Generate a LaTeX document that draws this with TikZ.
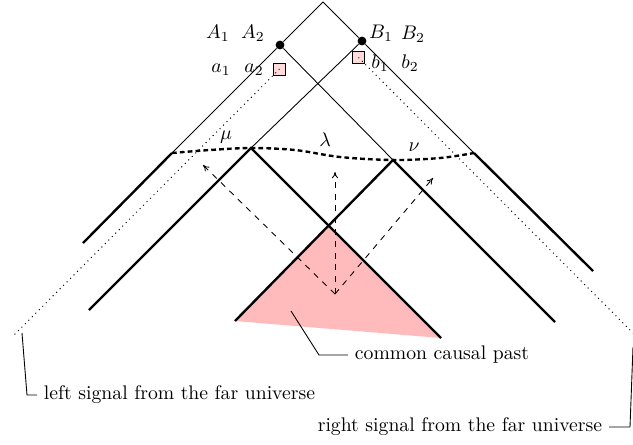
\documentclass[tikz,border=0pt]{standalone}
\usetikzlibrary{arrows.meta}
\definecolor{cpast}{RGB}{255,187,187}
\definecolor{sqfill}{RGB}{255,218,218}
\begin{document}
\begin{tikzpicture}[x=0.508pt,y=-0.508pt,
  thinline/.style={line width=0.45pt},
  thickline/.style={line width=1.2pt},
  sig/.style={dotted, line width=0.5pt},
  surf/.style={line width=1.2pt, dash pattern=on 2.4pt off 1.6pt},
  ray/.style={dashed, line width=0.45pt, -{To[length=3.2pt,width=3.2pt]}},
  event/.style={circle, fill=black, inner sep=0pt, minimum size=4.5pt},
  det/.style={draw, fill=sqfill, line width=0.4pt, inner sep=0pt, minimum size=6pt},
  lab/.style={inner sep=1pt},
  leader/.style={line width=0.45pt}]
\useasboundingbox (0,0) rectangle (633,444);

% key points
\coordinate (apex) at (323,2);
\coordinate (X1) at (172,153);
\coordinate (X4) at (474,153);
\coordinate (P) at (251,148);
\coordinate (Q) at (393,160);
\coordinate (T) at (328,225);
\coordinate (L1) at (83,243);
\coordinate (R1) at (593,271);
\coordinate (L2) at (89,310);
\coordinate (R2) at (555,322);
\coordinate (TL) at (235,321);
\coordinate (TR) at (441,338);
\coordinate (O) at (335,294);
\coordinate (farL) at (12,337);
\coordinate (farR) at (633,333);

% common causal past
\fill[cpast] (TL) -- (T) -- (TR) -- cycle;

% events
\node[event] (A) at (280,45) {};
\node[event] (B) at (362,41) {};

% thin light cone parts
\draw[thinline] (X1) -- (A) -- (apex) -- (B) -- (X4);
\draw[thinline] (B) -- (P);
\draw[thinline] (A) -- (Q);

% thick parts
\draw[thickline] (X1) -- (L1);
\draw[thickline] (X4) -- (R1);
\draw[thickline] (L2) -- (P) -- (TR);
\draw[thickline] (TL) -- (Q) -- (R2);

% surface
\coordinate (s1) at (210,150);
\coordinate (s2) at (295,150);
\coordinate (s3) at (340,157);
\coordinate (s4) at (440,158);
\draw[surf] plot[smooth, tension=0.55] coordinates {(X1) (s1) (P) (s2) (s3) (Q) (s4) (X4)};

% rays
\coordinate (tipL) at (203,165);
\coordinate (tipU) at (335,172);
\coordinate (tipR) at (433,178);
\draw[ray] (O) -- (tipL);
\draw[ray] (O) -- (tipU);
\draw[ray] (O) -- (tipR);

% detectors and signals
\node[det] (da) at (279.5,69) {};
\node[det] (db) at (358.5,57.5) {};
\draw[sig] (da.center) -- (farL);
\draw[sig] (db.center) -- (farR);

% labels
\node[lab] (lA1) at (218,33) {$A_1$};
\node[lab] (lA2) at (253,33) {$A_2$};
\node[lab] (lB1) at (381,33) {$B_1$};
\node[lab] (lB2) at (413,34) {$B_2$};
\node[lab] (la1) at (221,70) {$a_1$};
\node[lab] (la2) at (254,70) {$a_2$};
\node[lab] (lb1) at (380,63) {$b_1$};
\node[lab] (lb2) at (410,63) {$b_2$};
\node[lab] (lmu) at (226,137) {$\mu$};
\node[lab] (llam) at (325,140) {$\lambda$};
\node[lab] (lnu) at (414,147) {$\nu$};

% annotations
\node[anchor=west] (ccp) at (348,355) {common causal past};
\coordinate (c1) at (291,311);
\coordinate (c2) at (319,355);
\draw[leader] (c1) -- (c2) -- (ccp.west);

\node[anchor=west] (lsig) at (37,395) {left signal from the far universe};
\coordinate (l1) at (22,333);
\coordinate (l2) at (27,395);
\draw[leader] (l1) -- (l2) -- (lsig.west);

\node[anchor=east] (rsig) at (609,427) {right signal from the far universe};
\coordinate (r1) at (633,347);
\coordinate (r2) at (630,427);
\draw[leader] (rsig.east) -- (r2) -- (r1);
\end{tikzpicture}
\end{document}
